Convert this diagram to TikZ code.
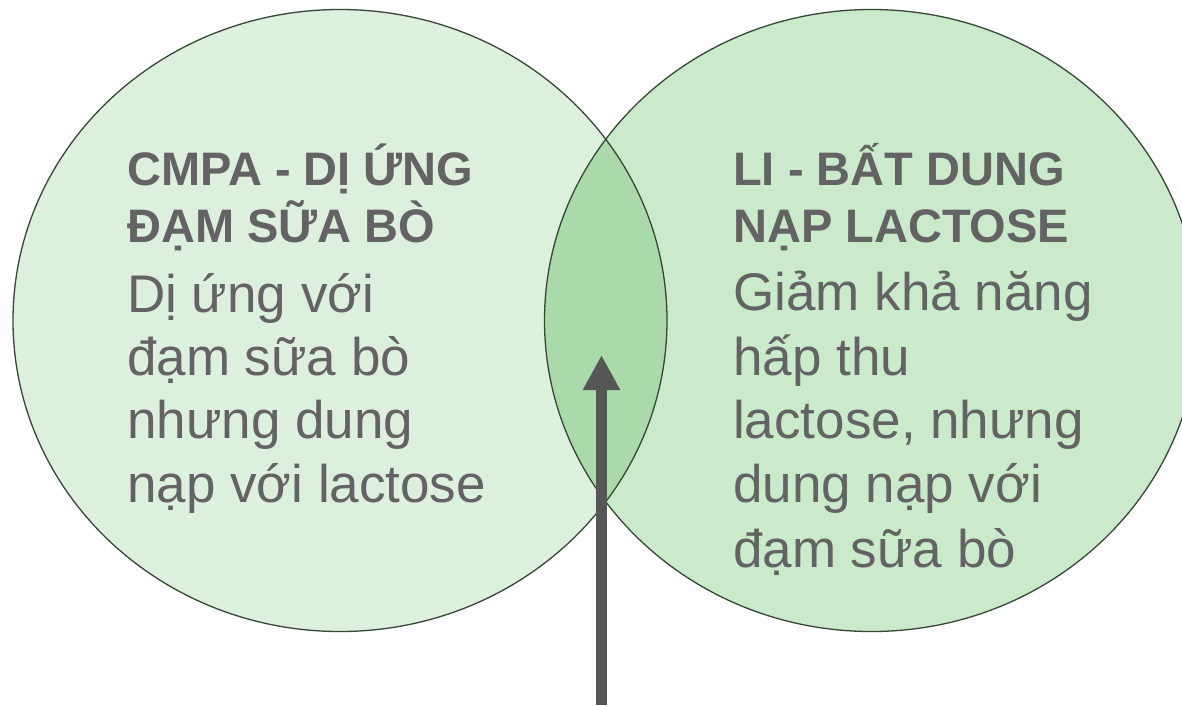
\documentclass[tikz,border=0pt]{standalone}
\usepackage{fontspec}
\setmainfont{Liberation Sans}
\usetikzlibrary{arrows.meta}

\definecolor{leftfill}{RGB}{221,239,221}
\definecolor{rightfill}{RGB}{203,233,203}
\definecolor{bothfill}{RGB}{170,218,170}
\definecolor{rimcolor}{RGB}{55,70,55}
\definecolor{inkgray}{RGB}{99,99,99}
\definecolor{arrowgray}{RGB}{86,86,86}

\tikzset{
  rim/.style={draw=rimcolor, line width=1.3pt},
  headline/.style={anchor=base west, inner sep=0pt, text=inkgray,
    font=\fontsize{47}{57}\selectfont\bfseries},
  bodyline/.style={anchor=base west, inner sep=0pt, text=inkgray,
    font=\fontsize{53}{63}\selectfont},
  pointer/.style={draw=arrowgray, line width=11pt,
    -{Triangle[width=35pt,length=35pt]}, arrowgray}
}

\begin{document}
\begin{tikzpicture}[x=1pt, y=-1pt]
  \path[use as bounding box, clip] (0,0) rectangle (1182,705);
  \fill[white] (0,0) rectangle (1182,705);

  % the two sets
  \fill[leftfill]  (340,320.5) ellipse [x radius=327, y radius=311];
  \fill[rightfill] (871.5,320.5) ellipse [x radius=327, y radius=311];
  % their overlap
  \begin{scope}
    \clip (340,320.5) ellipse [x radius=327, y radius=311];
    \fill[bothfill] (871.5,320.5) ellipse [x radius=327, y radius=311];
  \end{scope}
  \draw[rim] (340,320.5) ellipse [x radius=327, y radius=311];
  \draw[rim] (871.5,320.5) ellipse [x radius=327, y radius=311];

  % left set: cow's milk protein allergy
  \node[headline] (lhead1) at (127,185) {CMPA - DỊ ỨNG};
  \node[headline] (lhead2) at (127,242) {ĐẠM SỮA BÒ};
  \node[bodyline] (lbody1) at (127,312) {Dị ứng với};
  \node[bodyline] (lbody2) at (127,375) {đạm sữa bò};
  \node[bodyline] (lbody3) at (127,438) {nhưng dung};
  \node[bodyline] (lbody4) at (127,502) {nạp với lactose};

  % right set: lactose intolerance
  \node[headline] (rhead1) at (733,185) {LI - BẤT DUNG};
  \node[headline] (rhead2) at (733,242) {NẠP LACTOSE};
  \node[bodyline] (rbody1) at (733,310) {Giảm khả năng};
  \node[bodyline] (rbody2) at (733,375) {hấp thu};
  \node[bodyline] (rbody3) at (733,438) {lactose, nhưng};
  \node[bodyline] (rbody4) at (733,502) {dung nạp với};
  \node[bodyline] (rbody5) at (733,567) {đạm sữa bò};

  % pointer into the overlap
  \coordinate (arrowfoot) at (601.5,705);
  \coordinate (arrowtip) at (601.5,355);
  \draw[pointer] (arrowfoot) -- (arrowtip);
\end{tikzpicture}
\end{document}
